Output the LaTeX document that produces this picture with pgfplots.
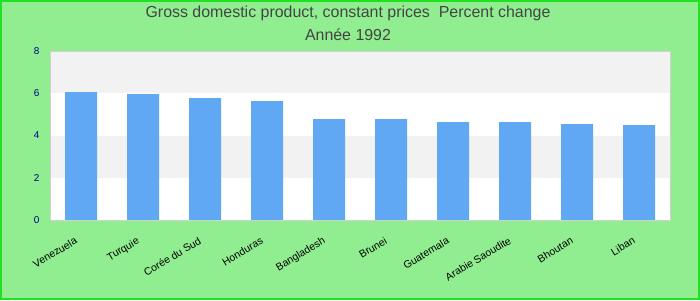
\documentclass[border=0pt]{standalone}
\usepackage{pgfplots}
\pgfplotsset{compat=1.18}
\usepackage{fontspec}
\setmainfont{Liberation Sans}
\definecolor{bg}{HTML}{90EE90}
\definecolor{frame}{HTML}{22E022}
\definecolor{barc}{HTML}{60A8F3}
\definecolor{band}{HTML}{F2F2F2}
\definecolor{tickc}{HTML}{00008B}
\definecolor{titlec}{HTML}{444444}
\begin{document}
\begin{tikzpicture}[x=1bp,y=1bp]
\fill[bg] (0,0) rectangle (700,300);
\draw[frame, line width=2bp] (1,1) rectangle (699,299);
\node[text=titlec, font=\fontsize{16}{19}\selectfont] at (348,287) {Gross domestic product, constant prices\ \ Percent change};
\node[text=titlec, font=\fontsize{16}{19}\selectfont] at (348,265) {Année 1992};
\begin{axis}[
  at={(50bp,80bp)}, anchor=south west,
  scale only axis, width=620bp, height=169bp,
  xmin=-0.5, xmax=9.5, ymin=0, ymax=8,
  ytick={0,2,4,6,8},
  xtick={0,...,9},
  xticklabels={Venezuela,Turquie,Corée du Sud,Honduras,Bangladesh,Brunei,Guatemala,Arabie Saoudite,Bhoutan,Liban},
  major tick length=0pt,
  axis line style={draw=black!18, line width=1bp},
  axis background/.style={fill=white},
  axis on top,
  /pgf/number format/assume math mode=true,
  yticklabel style={text=tickc, font=\fontsize{10}{12}\selectfont, xshift=-7bp},
  xticklabel style={rotate=31, anchor=north east, font=\fontsize{10.5}{12}\selectfont, xshift=-11bp, yshift=-7bp},
  ybar, bar width=32bp,
]
\fill[band] (axis cs:-0.5,2) rectangle (axis cs:9.5,4);
\fill[band] (axis cs:-0.5,6) rectangle (axis cs:9.5,8);
\addplot[fill=barc, draw=none] coordinates {(0,6.05) (1,5.96) (2,5.77) (3,5.63) (4,4.78) (5,4.78) (6,4.63) (7,4.63) (8,4.54) (9,4.49)};
\end{axis}
\end{tikzpicture}
\end{document}
